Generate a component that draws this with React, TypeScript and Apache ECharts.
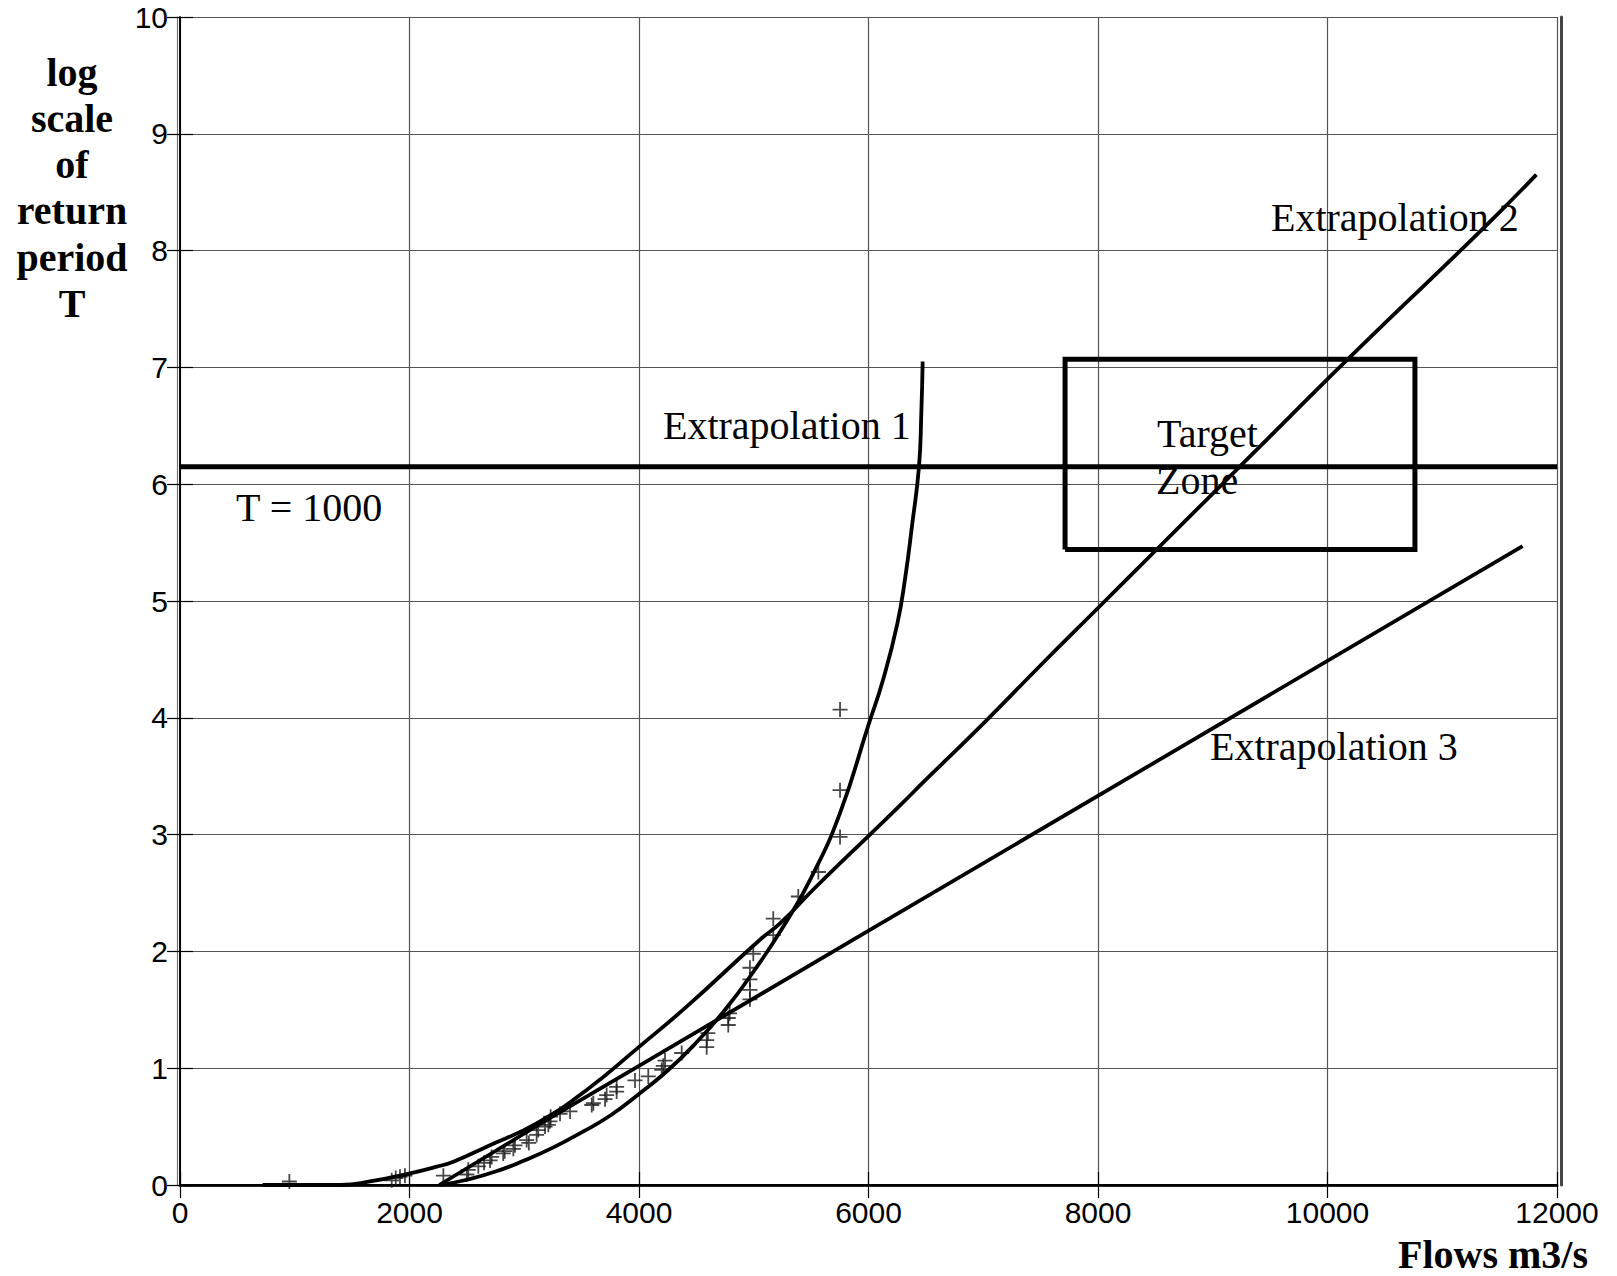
import React, { useEffect, useRef } from "react";
import * as echarts from "echarts";

// Axis ticks
const xTicks = [0, 2000, 4000, 6000, 8000, 10000, 12000];
const yTicks = [0, 1, 2, 3, 4, 5, 6, 7, 8, 9, 10];

// Observed flood flows (m3/s) vs log of return period
const obsFlow = [
  953, 1845, 1880, 1917, 1960, 2295, 2500, 2512, 2600, 2650, 2702, 2716, 2817, 2830,
  2905, 2919, 3021, 3040, 3108, 3122, 3181, 3210, 3224, 3230, 3312, 3399, 3588, 3602,
  3704, 3718, 3805, 3805, 3965, 4081, 4198, 4212, 4227, 4372, 4590, 4590, 4600, 4778,
  4778, 4790, 4967, 4967, 4967, 4967, 4996, 5170, 5170, 5388, 5563, 5752, 5752, 5752,
];
const obsLogT = [
  0.03, 0.04, 0.06, 0.07, 0.08, 0.08, 0.09, 0.13, 0.16, 0.19, 0.21, 0.24, 0.27, 0.29,
  0.31, 0.34, 0.385, 0.36, 0.43, 0.47, 0.5, 0.515, 0.545, 0.585, 0.61, 0.63, 0.685, 0.7,
  0.735, 0.77, 0.8, 0.84, 0.895, 0.93, 0.985, 1.02, 1.065, 1.13, 1.18, 1.24, 1.3, 1.37,
  1.43, 1.47, 1.59, 1.67, 1.76, 1.86, 1.98, 2.14, 2.28, 2.47, 2.68, 2.98, 3.38, 4.07,
];

// Extrapolation 1 (steep curve)
const ext1Flow = [2270, 2500, 2750, 3000, 3250, 3500, 3750, 4000, 4250, 4500, 4750, 5000, 5250, 5500, 5750, 6000, 6125, 6250, 6320, 6380, 6440, 6460, 6472];
const ext1LogT = [0, 0.045, 0.115, 0.21, 0.32, 0.45, 0.595, 0.78, 0.98, 1.22, 1.5, 1.83, 2.2, 2.63, 3.18, 3.94, 4.32, 4.8, 5.2, 5.65, 6.15, 6.6, 7.05];

// Extrapolation 2
const ext2Flow = [720, 1400, 1656, 2004, 2237, 2382, 2673, 3108, 3544, 4003, 4415, 5054, 5229, 5519, 5810, 6013, 6275, 6500, 7000, 7500, 8000, 8500, 9000, 9500, 10000, 10500, 11000, 11500, 11820];
const ext2LogT = [0, 0, 0.03, 0.1, 0.157, 0.2, 0.328, 0.528, 0.814, 1.185, 1.527, 2.1, 2.24, 2.53, 2.81, 3.0, 3.25, 3.47, 3.95, 4.45, 4.94, 5.43, 5.92, 6.41, 6.9, 7.38, 7.85, 8.33, 8.65];

// Extrapolation 3 (near-linear)
const ext3Flow = [2260, 3200, 4000, 5868, 11700];
const ext3LogT = [0, 0.56, 1.02, 2.1, 5.47];

// Reference level T = 1000 and target zone bounds
const t1000LogT = 6.15;
const targetFlow = [7713, 10762];
const targetLogT = [5.44, 7.07];

const zip = (xs: number[], ys: number[]) => xs.map((x, i) => [x, ys[i]]);

const SERIF = "'Liberation Serif', 'Times New Roman', serif";
const SANS = "'Liberation Sans', Arial, sans-serif";

export default function App() {
  const ref = useRef<HTMLDivElement>(null);

  useEffect(() => {
    if (!ref.current) return;
    const chart = echarts.init(ref.current, null, { renderer: "svg" });

    const xMin = xTicks[0];
    const xMax = xTicks[xTicks.length - 1];
    const yMin = yTicks[0];
    const yMax = yTicks[yTicks.length - 1];

    const curveStyle = { color: "#000", width: 3.8 };
    const annot = (text: string, x: number, y: number, align = "left") => ({
      type: "text",
      x,
      y,
      style: {
        text,
        fill: "#000",
        font: `40px ${SERIF}`,
        textAlign: align,
        textVerticalAlign: "middle",
      },
      z: 100,
    });
    const yTitleLines = ["log", "scale", "of", "return", "period", "T"];

    chart.setOption({
      animation: false,
      backgroundColor: "#fff",
      grid: { left: 180, top: 17, width: 1377, height: 1168, show: false },
      xAxis: [
        {
          type: "value",
          position: "bottom",
          min: xMin,
          max: xMax,
          interval: 2000,
          axisLine: { lineStyle: { color: "#222", width: 3 } },
          axisTick: { inside: true, length: 13, lineStyle: { color: "#000", width: 1.2 } },
          axisLabel: {
            fontFamily: SANS,
            fontSize: 30,
            color: "#000",
            margin: 12,
            formatter: (v: number) => String(v),
          },
          splitLine: { show: true, lineStyle: { color: "#555", width: 1.2 } },
        },
        {
          type: "value",
          position: "top",
          min: xMin,
          max: xMax,
          interval: 2000,
          axisLine: { lineStyle: { color: "#000", width: 1.8 } },
          axisTick: { inside: true, length: 13, lineStyle: { color: "#000", width: 1.2 } },
          axisLabel: { show: false },
          splitLine: { show: false },
        },
      ],
      yAxis: [
        {
          type: "value",
          position: "left",
          min: yMin,
          max: yMax,
          interval: 1,
          axisLine: { show: true, lineStyle: { color: "#000", width: 1.5 } },
          axisTick: { show: true, inside: true, length: 13, lineStyle: { color: "#000", width: 1.2 } },
          axisLabel: { fontFamily: SANS, fontSize: 30, color: "#000", margin: 12 },
          splitLine: { show: true, lineStyle: { color: "#555", width: 1.2 } },
        },
        {
          type: "value",
          position: "right",
          min: yMin,
          max: yMax,
          interval: 1,
          axisLine: { show: true, lineStyle: { color: "#000", width: 1.5 } },
          axisTick: { show: true, inside: true, length: 13, lineStyle: { color: "#000", width: 1.2 } },
          axisLabel: { show: false },
          splitLine: { show: false },
        },
        {
          type: "value",
          position: "right",
          offset: 4,
          min: yMin,
          max: yMax,
          interval: 1,
          axisLine: { show: true, lineStyle: { color: "#444", width: 3 } },
          axisTick: { show: false },
          axisLabel: { show: false },
          splitLine: { show: false },
        },
        {
          type: "value",
          position: "left",
          offset: 3,
          min: yMin,
          max: yMax,
          interval: 1,
          axisLine: { show: true, lineStyle: { color: "#777", width: 1.2 } },
          axisTick: { show: false },
          axisLabel: { show: false },
          splitLine: { show: false },
        },
      ],
      series: [
        {
          name: "Observed",
          type: "scatter",
          data: zip(obsFlow, obsLogT),
          symbol: "path://M0,5 L10,5 M5,0 L5,10",
          symbolSize: 15,
          itemStyle: { color: "transparent", borderColor: "#1a1a1a", borderWidth: 1.8 },
          z: 3,
        },
        {
          name: "T = 1000",
          type: "line",
          data: [
            [xMin, t1000LogT],
            [xMax, t1000LogT],
          ],
          symbol: "none",
          lineStyle: { color: "#000", width: 5 },
          z: 4,
        },
        {
          name: "Target Zone",
          type: "line",
          data: [
            [targetFlow[0], targetLogT[0]],
            [targetFlow[1], targetLogT[0]],
            [targetFlow[1], targetLogT[1]],
            [targetFlow[0], targetLogT[1]],
            [targetFlow[0], targetLogT[0]],
          ],
          symbol: "none",
          lineStyle: { color: "#000", width: 5, join: "miter" },
          z: 4,
        },
        {
          name: "Extrapolation 1",
          type: "line",
          data: zip(ext1Flow, ext1LogT),
          symbol: "none",
          smooth: 0.5,
          lineStyle: curveStyle,
          z: 5,
        },
        {
          name: "Extrapolation 2",
          type: "line",
          data: zip(ext2Flow, ext2LogT),
          symbol: "none",
          smooth: 0.5,
          lineStyle: curveStyle,
          z: 5,
        },
        {
          name: "Extrapolation 3",
          type: "line",
          data: zip(ext3Flow, ext3LogT),
          symbol: "none",
          smooth: false,
          lineStyle: curveStyle,
          z: 5,
        },
      ],
      graphic: [
        annot("Extrapolation 1", 663, 425),
        annot("Extrapolation 2", 1271, 217),
        annot("Extrapolation 3", 1210, 746),
        annot("T = 1000", 236, 507),
        annot("Target", 1157, 433),
        annot("Zone", 1156, 480),
        ...yTitleLines.map((line, i) => ({
          type: "text",
          x: 72,
          y: 72 + i * 46.3,
          style: {
            text: line,
            fill: "#000",
            font: `bold 40px ${SERIF}`,
            textAlign: "center",
            textVerticalAlign: "middle",
          },
        })),
        {
          type: "text",
          x: 1588,
          y: 1254,
          style: {
            text: "Flows m3/s",
            fill: "#000",
            font: `bold 40px ${SERIF}`,
            textAlign: "right",
            textVerticalAlign: "middle",
          },
        },
      ],
    });

    return () => chart.dispose();
  }, []);

  return (
    <div
      ref={ref}
      style={{ position: "absolute", left: 0, top: 0, width: 1617, height: 1276, background: "#fff" }}
    />
  );
}
